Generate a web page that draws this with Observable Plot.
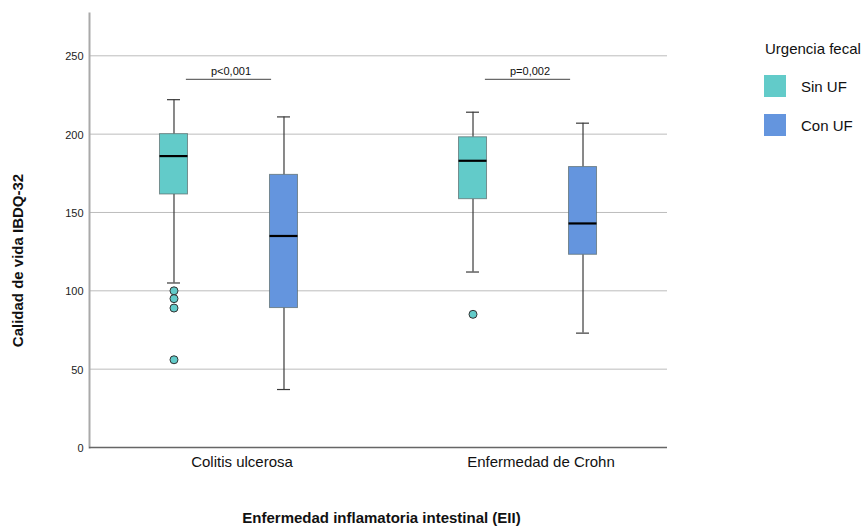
<!DOCTYPE html>
<html>
<head>
<meta charset="utf-8">
<script src="https://cdn.jsdelivr.net/npm/d3@7"></script>
<script src="https://cdn.jsdelivr.net/npm/@observablehq/plot@0.6"></script>
<style>
  html, body { margin: 0; padding: 0; background: #fff; }
  #wrap { position: relative; width: 862px; height: 529px; font-family: "Liberation Sans", Arial, sans-serif; }
  #legend { position: absolute; left: 764px; top: 40px; color: #111; font-size: 15px; }
  #legend .title { line-height: 18px; margin-left: 1px; }
  #legend .item { display: flex; align-items: center; height: 22px; margin-top: 17px; }
  #legend .sw { width: 22px; height: 22px; margin-right: 15px; }
</style>
</head>
<body>
<div id="wrap">
  <div id="chart"></div>
  <div id="legend"></div>
</div>
<script>
// ---- data ----
const groups = ["Colitis ulcerosa", "Enfermedad de Crohn"];
const series = ["Sin UF", "Con UF"];
const seriesColors = ["#62CBC9", "#6495DE"];

const sinUF_min    = [105, 112];
const sinUF_q1     = [161.5, 158.5];
const sinUF_median = [186, 183];
const sinUF_q3     = [200, 198];
const sinUF_max    = [222, 214];
const sinUF_outliers = [[100, 95, 89, 56], [85]];

const conUF_min    = [37, 73];
const conUF_q1     = [89, 123];
const conUF_median = [135, 143];
const conUF_q3     = [174, 179];
const conUF_max    = [211, 207];
const conUF_outliers = [[], []];

const pValues = ["p<0,001", "p=0,002"];
const pValueLevel = [235, 235];
const yTicks = [0, 50, 100, 150, 200, 250];

const xTitle = "Enfermedad inflamatoria intestinal (EII)";
const yTitle = "Calidad de vida IBDQ-32";
const legendTitle = "Urgencia fecal";

// ---- build tables ----
const stats = {
  "Sin UF": {min: sinUF_min, q1: sinUF_q1, med: sinUF_median, q3: sinUF_q3, max: sinUF_max, out: sinUF_outliers},
  "Con UF": {min: conUF_min, q1: conUF_q1, med: conUF_median, q3: conUF_q3, max: conUF_max, out: conUF_outliers}
};
function boxRows(s) {
  const st = stats[s];
  return groups.map((g, i) => ({group: g, series: s, min: st.min[i], q1: st.q1[i], med: st.med[i], q3: st.q3[i], max: st.max[i]}));
}
function outlierRows(s) {
  const st = stats[s];
  return groups.flatMap((g, i) => st.out[i].map(v => ({group: g, series: s, value: v})));
}
const brackets = groups.map((g, i) => ({group: g, label: pValues[i], y: pValueLevel[i]}));

// ---- layout ----
const W = 862, H = 529;
const ML = 89, MR = 195, MT = 13, MB = 82;
const padInner = 0.2, padOuter = 0.0665;
const step = (W - ML - MR) / (groups.length - padInner + 2 * padOuter);
const bw = step * (1 - padInner);
const boxW = 28, capW = 13, offset = 55;
const boxInset = (bw - boxW) / 2;
const capInset = (bw - capW) / 2;
const bracketInset = 77;

function seriesMarks(s, k) {
  const dx = k === 0 ? -offset : offset;
  const fill = seriesColors[k];
  const rows = boxRows(s);
  return [
    Plot.ruleX(rows, {x: "group", y1: "min", y2: "q1", dx, stroke: "#3a3a3a", strokeWidth: 1.2}),
    Plot.ruleX(rows, {x: "group", y1: "q3", y2: "max", dx, stroke: "#3a3a3a", strokeWidth: 1.2}),
    Plot.tickY(rows, {x: "group", y: "min", dx, insetLeft: capInset, insetRight: capInset, stroke: "#3a3a3a", strokeWidth: 1.2}),
    Plot.tickY(rows, {x: "group", y: "max", dx, insetLeft: capInset, insetRight: capInset, stroke: "#3a3a3a", strokeWidth: 1.2}),
    Plot.barY(rows, {x: "group", y1: "q1", y2: "q3", dx, insetLeft: boxInset, insetRight: boxInset, fill, stroke: "#5a6a6a", strokeOpacity: 0.7, strokeWidth: 1}),
    Plot.tickY(rows, {x: "group", y: "med", dx, insetLeft: boxInset, insetRight: boxInset, stroke: "#000", strokeWidth: 2.2}),
    Plot.dot(outlierRows(s), {x: "group", y: "value", dx, r: 4, fill, stroke: "#333", strokeWidth: 1})
  ];
}

const chart = Plot.plot({
  width: W,
  height: H,
  marginLeft: ML,
  marginRight: MR,
  marginTop: MT,
  marginBottom: MB,
  style: {fontFamily: "'Liberation Sans', Arial, sans-serif", background: "#fff", color: "#111"},
  x: {domain: groups, paddingInner: padInner, paddingOuter: padOuter, round: false, axis: null},
  y: {domain: [0, 277], axis: null},
  marks: [
    Plot.gridY(yTicks.filter(d => d > 0), {stroke: "#bdbdbd", strokeOpacity: 1, strokeWidth: 1}),
    Plot.axisY({ticks: yTicks, tickSize: 0, tickPadding: 6, fontSize: 11, label: null, fill: "#222", dy: 1}),
    Plot.axisX({tickSize: 0, tickPadding: 9, fontSize: 15, label: null, dx: 13, fill: "#111"}),
    Plot.frame({anchor: "left", stroke: "#a9a9a9", strokeWidth: 2}),
    Plot.ruleY([0], {stroke: "#666", strokeWidth: 1.5}),
    Plot.tickY(brackets, {x: "group", y: "y", insetLeft: bracketInset, insetRight: bracketInset, stroke: "#444", strokeWidth: 1}),
    Plot.text(brackets, {x: "group", y: "y", text: "label", dy: -8, dx: 2, fontSize: 11, fill: "#111"}),
    ...series.map((s, k) => seriesMarks(s, k)),
    Plot.text([xTitle], {frameAnchor: "bottom", dy: 75, dx: 3, fontSize: 15, fontWeight: "bold", fill: "#111"}),
    Plot.text([yTitle], {frameAnchor: "left", textAnchor: "middle", rotate: -90, dx: -71, dy: 30, fontSize: 15, fontWeight: "bold", fill: "#111"})
  ]
});
document.getElementById("chart").appendChild(chart);

// ---- legend ----
const legend = document.getElementById("legend");
const t = document.createElement("div");
t.className = "title";
t.textContent = legendTitle;
legend.appendChild(t);
series.forEach((s, k) => {
  const item = document.createElement("div");
  item.className = "item";
  const sw = document.createElement("div");
  sw.className = "sw";
  sw.style.background = seriesColors[k];
  const lab = document.createElement("span");
  lab.textContent = s;
  item.appendChild(sw);
  item.appendChild(lab);
  legend.appendChild(item);
});
</script>
</body>
</html>
